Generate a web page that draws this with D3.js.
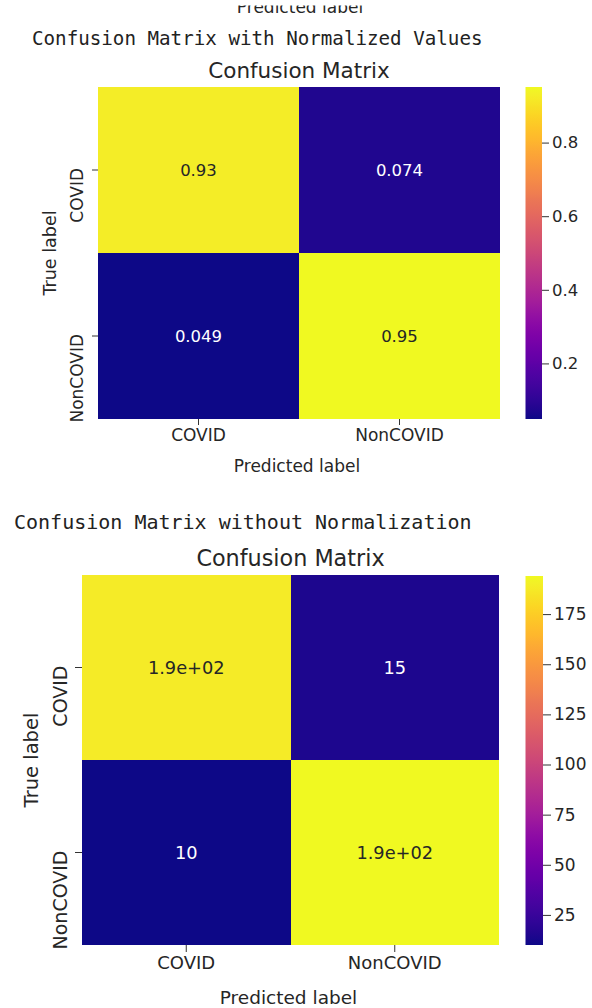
<!DOCTYPE html>
<html>
<head>
<meta charset="utf-8">
<script src="https://cdn.jsdelivr.net/npm/d3@7"></script>
<style>
  html, body { margin: 0; padding: 0; background: #fff; }
  svg { display: block; }
</style>
</head>
<body>
<svg id="chart" width="592" height="1008"></svg>
<script>
// ---------------- DATA ----------------
const categories = ["COVID", "NonCOVID"];
const normalizedValues = [
  [0.926, 0.074],
  [0.049, 0.951]
];
const countValues = [
  [188, 15],
  [10, 194]
];
const normTickValues = [0.2, 0.4, 0.6, 0.8];
const countTickValues = [25, 50, 75, 100, 125, 150, 175];
const printedTitles = [
  "Confusion Matrix with Normalized Values",
  "Confusion Matrix without Normalization"
];
const chartTitle = "Confusion Matrix";
const xAxisLabel = "Predicted label";
const yAxisLabel = "True label";

// ---------------- HELPERS ----------------
function pyG(v, p) {
  if (v === 0) return "0";
  const e = Math.floor(Math.log10(Math.abs(v)));
  if (e < -4 || e >= p) {
    let s = v.toExponential(p - 1);
    s = s.replace(/e([+-])(\d)$/, "e$10$2");
    return s;
  }
  return d3.format("." + p + "g")(v);
}
function luminance(c) {
  const rgb = d3.rgb(c);
  const f = x => { x /= 255; return x <= 0.03928 ? x / 12.92 : Math.pow((x + 0.055) / 1.055, 2.4); };
  return 0.2126 * f(rgb.r) + 0.7152 * f(rgb.g) + 0.0722 * f(rgb.b);
}

const svg = d3.select("#chart");
const SANS = "DejaVu Sans, sans-serif";
const MONO = "DejaVu Sans Mono, monospace";
const INK = "#262626";

// leftover label at the very top, cut as in the source screenshot
svg.append("clipPath").attr("id", "topclip")
  .append("rect").attr("x", 0).attr("y", 5.5).attr("width", 592).attr("height", 30);
svg.append("text")
  .attr("clip-path", "url(#topclip)")
  .attr("x", 300).attr("y", 13)
  .attr("text-anchor", "middle")
  .attr("font-family", SANS).attr("font-size", 17).attr("fill", INK)
  .text(xAxisLabel);

function drawMatrix(cfg) {
  const values = cfg.values;
  const flat = values.flat();
  const vmin = d3.min(flat), vmax = d3.max(flat);
  const color = d3.scaleSequential(d3.interpolatePlasma).domain([vmin, vmax]);

  const x = d3.scaleBand().domain(categories).range([cfg.left, cfg.right]);
  const y = d3.scaleBand().domain(categories).range([cfg.top, cfg.bottom]);

  svg.append("text")
    .attr("x", cfg.monoX).attr("y", cfg.monoY)
    .attr("font-family", MONO).attr("font-size", cfg.monoSize).attr("fill", "#222")
    .text(cfg.monoTitle);

  svg.append("text")
    .attr("x", (cfg.left + cfg.right) / 2).attr("y", cfg.titleY)
    .attr("text-anchor", "middle")
    .attr("font-family", SANS).attr("font-size", cfg.titleSize).attr("fill", INK)
    .text(chartTitle);

  const g = svg.append("g");
  const cells = [];
  values.forEach((row, i) => row.forEach((v, j) => cells.push({ r: categories[i], c: categories[j], v })));

  g.selectAll("rect.cell").data(cells).join("rect")
    .attr("class", "cell")
    .attr("x", d => x(d.c)).attr("y", d => y(d.r))
    .attr("width", x.bandwidth()).attr("height", y.bandwidth())
    .attr("fill", d => color(d.v))
    .attr("shape-rendering", "crispEdges");

  g.selectAll("text.annot").data(cells).join("text")
    .attr("class", "annot")
    .attr("x", d => x(d.c) + x.bandwidth() / 2)
    .attr("y", d => y(d.r) + y.bandwidth() / 2)
    .attr("dy", "0.36em")
    .attr("text-anchor", "middle")
    .attr("font-family", SANS).attr("font-size", cfg.annotSize)
    .attr("fill", d => luminance(color(d.v)) > 0.408 ? INK : "#ffffff")
    .text(d => pyG(d.v, 2));

  const xAxis = d3.axisBottom(x).tickSize(cfg.tickLen).tickPadding(cfg.xPad);
  const gx = svg.append("g").attr("transform", `translate(0,${cfg.bottom})`).call(xAxis);
  gx.select(".domain").remove();
  gx.selectAll(".tick line").attr("stroke", "#333").attr("stroke-width", 1);
  gx.selectAll(".tick text")
    .attr("font-family", SANS).attr("font-size", cfg.tickSize).attr("fill", INK);

  svg.append("text")
    .attr("x", (cfg.left + cfg.right) / 2 - 2).attr("y", cfg.xLabelY)
    .attr("text-anchor", "middle")
    .attr("font-family", SANS).attr("font-size", cfg.labelSize).attr("fill", INK)
    .text(xAxisLabel);

  const yAxis = d3.axisLeft(y).tickSize(cfg.tickLen).tickFormat("");
  const gy = svg.append("g").attr("transform", `translate(${cfg.left},0)`).call(yAxis);
  gy.select(".domain").remove();
  gy.selectAll(".tick line").attr("stroke", "#333").attr("stroke-width", 1);

  svg.append("g").selectAll("text").data(categories).join("text")
    .attr("transform", d => `translate(${cfg.yTickBaseX},${y(d) + y.bandwidth() / 2 - 2}) rotate(-90)`)
    .attr("text-anchor", "end")
    .attr("font-family", SANS).attr("font-size", cfg.yTickSize).attr("fill", INK)
    .text(d => d);

  svg.append("text")
    .attr("transform", `translate(${cfg.yLabelBaseX},${(cfg.top + cfg.bottom) / 2}) rotate(-90)`)
    .attr("text-anchor", "middle")
    .attr("font-family", SANS).attr("font-size", cfg.yLabelSize).attr("fill", INK)
    .text(yAxisLabel);

  const gradId = "grad" + cfg.id;
  const grad = svg.append("defs").append("linearGradient")
    .attr("id", gradId).attr("x1", 0).attr("y1", 1).attr("x2", 0).attr("y2", 0);
  d3.range(0, 1.0001, 0.02).forEach(t => {
    grad.append("stop").attr("offset", t).attr("stop-color", d3.interpolatePlasma(t));
  });
  svg.append("rect")
    .attr("x", cfg.cbLeft).attr("y", cfg.cbTop)
    .attr("width", cfg.cbWidth).attr("height", cfg.cbBottom - cfg.cbTop)
    .attr("fill", `url(#${gradId})`);

  const cb = d3.scaleLinear().domain([vmin, vmax]).range([cfg.cbBottom, cfg.cbTop]);
  const cbAxis = d3.axisRight(cb).tickValues(cfg.cbTicks)
    .tickFormat(d3.format(cfg.cbFormat)).tickSize(cfg.cbTickLen).tickPadding(3);
  const gc = svg.append("g").attr("transform", `translate(${cfg.cbLeft + cfg.cbWidth},0)`).call(cbAxis);
  gc.select(".domain").remove();
  gc.selectAll(".tick line").attr("stroke", "#333").attr("stroke-width", 1);
  gc.selectAll(".tick text")
    .attr("font-family", SANS).attr("font-size", cfg.cbTickSize).attr("fill", INK);
}

drawMatrix({
  id: 1,
  values: normalizedValues,
  monoTitle: printedTitles[0], monoX: 32, monoY: 45, monoSize: 19.2,
  titleY: 78, titleSize: 21.5,
  left: 98, right: 500, top: 87, bottom: 419,
  annotSize: 16.5,
  tickLen: 6, xPad: 4, tickSize: 17, labelSize: 17, xLabelY: 472,
  yTickBaseX: 83, yTickSize: 17, yLabelBaseX: 56, yLabelSize: 17.5,
  cbLeft: 525.5, cbWidth: 16.5, cbTop: 87, cbBottom: 419,
  cbTicks: normTickValues, cbFormat: ".1f", cbTickLen: 7, cbTickSize: 16.5
});

drawMatrix({
  id: 2,
  values: countValues,
  monoTitle: printedTitles[1], monoX: 14, monoY: 529, monoSize: 20,
  titleY: 566, titleSize: 22.3,
  left: 82, right: 499, top: 575, bottom: 945,
  annotSize: 17.8,
  tickLen: 7, xPad: 4, tickSize: 18, labelSize: 18.5, xLabelY: 1004,
  yTickBaseX: 66.5, yTickSize: 19, yLabelBaseX: 38, yLabelSize: 19.5,
  cbLeft: 525.5, cbWidth: 17.5, cbTop: 576, cbBottom: 945,
  cbTicks: countTickValues, cbFormat: "d", cbTickLen: 8, cbTickSize: 17
});
</script>
</body>
</html>
